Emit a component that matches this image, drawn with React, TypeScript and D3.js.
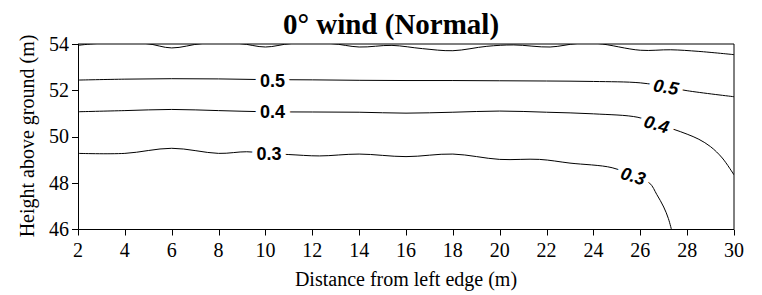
import * as d3 from 'd3';
import { useEffect, useRef } from 'react';

// tick values
const xTicks = [2, 4, 6, 8, 10, 12, 14, 16, 18, 20, 22, 24, 26, 28, 30];
const yTicks = [46, 48, 50, 52, 54];

// contour lines, [distance (m), height (m)]
const contourTop: [number, number][] = [
  [2, 53.94], [2.8, 54.02], [4.9, 54.02], [6.0, 53.83], [7.3, 54.02], [8.9, 54.02],
  [10.0, 53.87], [11.1, 54.02], [12.8, 54.02], [14.0, 53.87], [15.4, 53.94], [16.7, 53.8],
  [18.0, 53.71], [19.45, 53.9], [20.6, 53.96], [22.15, 53.87], [23.3, 54.02], [24.2, 54.02],
  [26.0, 53.73], [27.3, 53.75], [28.5, 53.68], [30, 53.54],
];
const contour05: [number, number][] = [
  [2, 52.44], [4, 52.48], [6, 52.5], [8, 52.49], [10, 52.46], [12, 52.45], [14, 52.43],
  [16, 52.42], [18, 52.42], [20, 52.41], [22, 52.4], [24, 52.38], [26, 52.32],
  [27.1, 52.15], [28, 51.98], [30, 51.72],
];
const contour04: [number, number][] = [
  [2, 51.07], [4, 51.12], [6, 51.17], [8, 51.12], [10, 51.07], [12, 51.06], [14, 51.05],
  [16, 51.01], [18, 51.05], [20, 51.1], [22, 51.05], [24, 50.98], [25.9, 50.83],
  [26.7, 50.55], [27.4, 50.32], [28, 50.1], [28.5, 49.88], [29, 49.56], [29.5, 49.07],
  [30, 48.34],
];
const contour03: [number, number][] = [
  [2, 49.27], [4, 49.27], [6, 49.49], [8, 49.27], [9.2, 49.34], [10.1, 49.26], [11, 49.22],
  [12.3, 49.16], [14, 49.24], [16, 49.13], [18, 49.24], [20, 49.01], [21.7, 49.01],
  [23, 48.85], [24.8, 48.65], [25.7, 48.3], [26.4, 47.98], [26.7, 47.5], [27.0, 46.95],
  [27.2, 46.45], [27.35, 45.9],
];
const contours = [contourTop, contour05, contour04, contour03];

// contour labels
const labelText = ['0.5', '0.4', '0.3', '0.5', '0.4', '0.3'];
const labelX = [10.3, 10.3, 10.15, 27.1, 26.7, 25.7];
const labelY = [52.44, 51.07, 49.26, 52.15, 50.54, 48.3];
const labelAngle = [0, 0, 0, 10, 16, 16];
const labelItalic = [false, false, false, true, true, true];

export default function App() {
  const svgRef = useRef<SVGSVGElement>(null);

  useEffect(() => {
    if (!svgRef.current) return;
    const svg = d3.select(svgRef.current);
    svg.selectAll('*').remove();

    const serif = "'Liberation Serif', 'Times New Roman', serif";
    const x = d3.scaleLinear().domain([2, 30]).range([78, 734]);
    const y = d3.scaleLinear().domain([46, 54]).range([229, 44]);

    svg
      .append('defs')
      .append('clipPath')
      .attr('id', 'plot-clip')
      .append('rect')
      .attr('x', 78)
      .attr('y', 44)
      .attr('width', 656)
      .attr('height', 185);

    // contours
    const line = d3
      .line<[number, number]>()
      .x((d) => x(d[0]))
      .y((d) => y(d[1]))
      .curve(d3.curveCatmullRom.alpha(0.5));

    svg
      .append('g')
      .attr('clip-path', 'url(#plot-clip)')
      .selectAll('path')
      .data(contours)
      .enter()
      .append('path')
      .attr('d', (d) => line(d))
      .attr('fill', 'none')
      .attr('stroke', '#000')
      .attr('stroke-width', 1);

    // labels with white halo to break the lines
    svg
      .append('g')
      .selectAll('text')
      .data(labelText)
      .enter()
      .append('text')
      .attr('transform', (_, i) => `translate(${x(labelX[i])},${y(labelY[i])}) rotate(${labelAngle[i]})`)
      .attr('text-anchor', 'middle')
      .attr('dy', '0.36em')
      .style('font-family', '"Liberation Sans", Arial, sans-serif')
      .style('font-weight', 'bold')
      .style('font-style', (_, i) => (labelItalic[i] ? 'italic' : 'normal'))
      .style('font-size', '18px')
      .style('paint-order', 'stroke')
      .attr('stroke', '#fff')
      .attr('stroke-width', 10)
      .attr('fill', '#000')
      .text((d) => d);

    // frame
    svg
      .append('path')
      .attr('d', `M78,44H734V229`)
      .attr('fill', 'none')
      .attr('stroke', '#000')
      .attr('stroke-width', 1);

    // axes lines
    svg
      .append('path')
      .attr('d', `M78.5,44V229.5H734`)
      .attr('fill', 'none')
      .attr('stroke', '#000')
      .attr('stroke-width', 1);

    // x ticks
    const xt = svg.append('g');
    xt.selectAll('line')
      .data(xTicks)
      .enter()
      .append('line')
      .attr('x1', (d) => Math.round(x(d)) + 0.5)
      .attr('x2', (d) => Math.round(x(d)) + 0.5)
      .attr('y1', 229.5)
      .attr('y2', 235.5)
      .attr('stroke', '#000');
    xt.selectAll('text')
      .data(xTicks)
      .enter()
      .append('text')
      .attr('x', (d) => x(d))
      .attr('y', 257)
      .attr('text-anchor', 'middle')
      .style('font-family', serif)
      .style('font-size', '20px')
      .attr('fill', '#000')
      .text((d) => String(d));

    // y ticks
    const yt = svg.append('g');
    yt.selectAll('line')
      .data(yTicks)
      .enter()
      .append('line')
      .attr('y1', (d) => Math.round(y(d)) + 0.5)
      .attr('y2', (d) => Math.round(y(d)) + 0.5)
      .attr('x1', 72)
      .attr('x2', 78.5)
      .attr('stroke', '#000');
    yt.selectAll('text')
      .data(yTicks)
      .enter()
      .append('text')
      .attr('x', 69)
      .attr('y', (d) => y(d))
      .attr('dy', '0.34em')
      .attr('text-anchor', 'end')
      .style('font-family', serif)
      .style('font-size', '20px')
      .attr('fill', '#000')
      .text((d) => String(d));

    // title
    svg
      .append('text')
      .attr('x', 391)
      .attr('y', 34)
      .attr('text-anchor', 'middle')
      .style('font-family', serif)
      .style('font-weight', 'bold')
      .style('font-size', '29px')
      .text('0° wind (Normal)');

    // x axis label
    svg
      .append('text')
      .attr('x', 406)
      .attr('y', 286)
      .attr('text-anchor', 'middle')
      .style('font-family', serif)
      .style('font-size', '20px')
      .text('Distance from left edge (m)');

    // y axis label
    svg
      .append('text')
      .attr('transform', 'translate(34,136) rotate(-90)')
      .attr('text-anchor', 'middle')
      .style('font-family', serif)
      .style('font-size', '20px')
      .text('Height above ground (m)');
  }, []);

  return (
    <svg
      ref={svgRef}
      width={762}
      height={295}
      style={{ position: 'absolute', left: 0, top: 0, background: '#fff' }}
    />
  );
}
